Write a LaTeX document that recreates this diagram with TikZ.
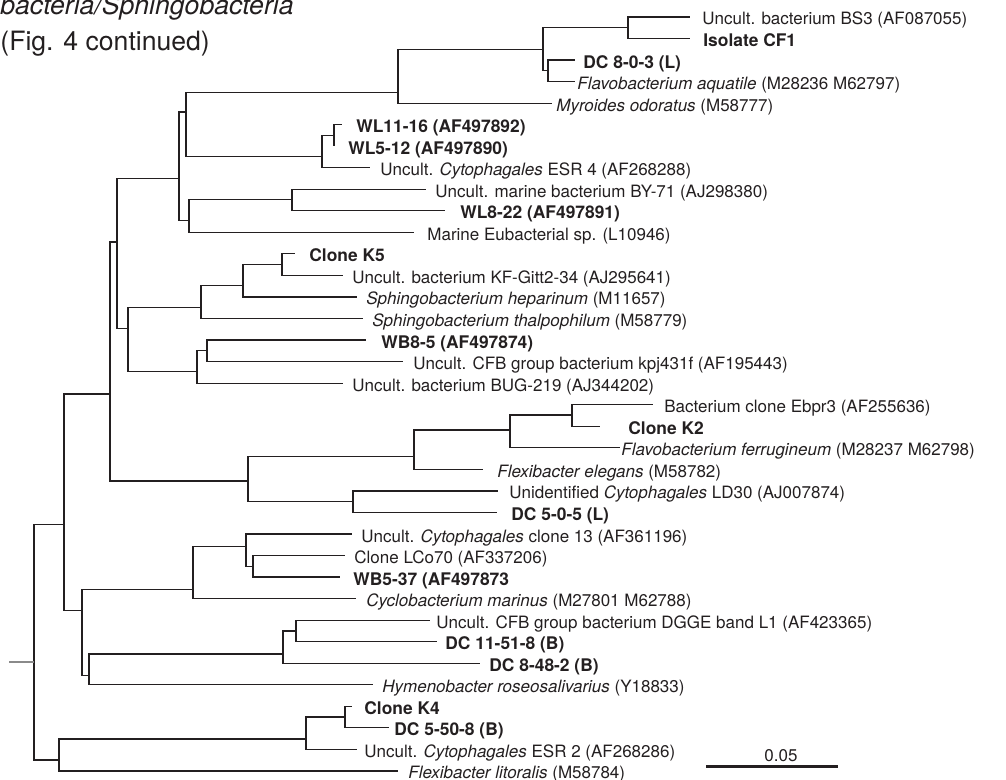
\documentclass[tikz,border=0pt]{standalone}
\usepackage{fontspec}
\setmainfont{TeX Gyre Heros}
\definecolor{ink}{HTML}{231F20}
\definecolor{stubgray}{HTML}{8A8A8A}
\newcommand\labfont{\fontsize{8.5}{10}\selectfont}
\newcommand\labfontb{\fontsize{8.7}{10}\selectfont\bfseries}
\newcommand\ttlfont{\fontsize{13.3}{16}\selectfont}
\begin{document}
\begin{tikzpicture}[x=0.5pt,y=-0.5pt,
  br/.style={line width=0.6pt, draw=ink},
  lab/.style={anchor=base west, inner sep=0pt, text=ink, font=\labfont},
  blab/.style={lab, font=\labfontb},
  ttl/.style={anchor=base west, inner sep=0pt, text=ink, font=\ttlfont}]
\useasboundingbox (0,0) rectangle (1006,780);

% titles
\node[ttl] (title1) at (0,15) {\itshape bacteria/Sphingobacteria};
\node[ttl] (title2) at (0,50.5) {(Fig. 4 continued)};

% leaf ends
\coordinate (t1) at (690,17.0);
\coordinate (t2) at (690,38.5);
\coordinate (t3) at (575,60.1);
\coordinate (t4) at (575,81.6);
\coordinate (t5) at (552,103.2);
\coordinate (t6) at (342,124.7);
\coordinate (t7) at (334,146.2);
\coordinate (t8) at (370,167.8);
\coordinate (t9) at (426,189.3);
\coordinate (t10) at (445,210.9);
\coordinate (t11) at (414,232.4);
\coordinate (t12) at (295,253.9);
\coordinate (t13) at (343,275.5);
\coordinate (t14) at (357,297.0);
\coordinate (t15) at (363,318.6);
\coordinate (t16) at (366,340.1);
\coordinate (t17) at (403,361.6);
\coordinate (t18) at (343,383.2);
\coordinate (t19) at (653,404.7);
\coordinate (t20) at (600,426.3);
\coordinate (t21) at (620,447.8);
\coordinate (t22) at (483,469.3);
\coordinate (t23) at (498,490.9);
\coordinate (t24) at (497,512.4);
\coordinate (t25) at (352,534.0);
\coordinate (t26) at (345,555.5);
\coordinate (t27) at (340,577.0);
\coordinate (t28) at (356,598.6);
\coordinate (t29) at (430,620.1);
\coordinate (t30) at (437,641.6);
\coordinate (t31) at (480,663.2);
\coordinate (t32) at (373,684.7);
\coordinate (t33) at (352,706.2);
\coordinate (t34) at (389,727.8);
\coordinate (t35) at (357,749.3);
\coordinate (t36) at (398,770.9);

% labels
\node[lab]  (L1)  at (702,25.0)  {Uncult. bacterium BS3 (AF087055)};
\node[blab] (L2)  at (703,46.5)  {Isolate CF1};
\node[blab] (L3)  at (583,68.1)  {DC 8-0-3 (L)};
\node[lab]  (L4)  at (577,89.6)  {\textit{Flavobacterium aquatile} (M28236 M62797)};
\node[lab]  (L5)  at (556,111.2) {\textit{Myroides odoratus} (M58777)};
\node[blab] (L6)  at (356,132.7) {WL11-16 (AF497892)};
\node[blab] (L7)  at (348,154.2) {WL5-12 (AF497890)};
\node[lab]  (L8)  at (380,175.8) {Uncult. \textit{Cytophagales} ESR 4 (AF268288)};
\node[lab]  (L9)  at (435,197.3) {Uncult. marine bacterium BY-71 (AJ298380)};
\node[blab] (L10) at (460,218.9) {WL8-22 (AF497891)};
\node[lab]  (L11) at (427,240.4) {Marine Eubacterial sp. (L10946)};
\node[blab] (L12) at (309,261.9) {Clone K5};
\node[lab]  (L13) at (352,283.5) {Uncult. bacterium KF-Gitt2-34 (AJ295641)};
\node[lab]  (L14) at (366,305.0) {\textit{Sphingobacterium heparinum} (M11657)};
\node[lab]  (L15) at (372,326.6) {\textit{Sphingobacterium thalpophilum} (M58779)};
\node[blab] (L16) at (381,348.1) {WB8-5 (AF497874)};
\node[lab]  (L17) at (413,369.6) {Uncult. CFB group bacterium kpj431f (AF195443)};
\node[lab]  (L18) at (352,391.2) {Uncult. bacterium BUG-219 (AJ344202)};
\node[lab]  (L19) at (664,412.7) {Bacterium clone Ebpr3 (AF255636)};
\node[blab] (L20) at (628,434.3) {Clone K2};
\node[lab]  (L21) at (621,455.8) {\textit{Flavobacterium ferrugineum} (M28237 M62798)};
\node[lab]  (L22) at (497,477.3) {\textit{Flexibacter elegans} (M58782)};
\node[lab]  (L23) at (509,498.9) {Unidentified \textit{Cytophagales} LD30 (AJ007874)};
\node[blab] (L24) at (511,520.4) {DC 5-0-5 (L)};
\node[lab]  (L25) at (361,542.0) {Uncult. \textit{Cytophagales} clone 13 (AF361196)};
\node[lab]  (L26) at (354,563.5) {Clone LCo70 (AF337206)};
\node[blab] (L27) at (353,585.0) {WB5-37 (AF497873};
\node[lab]  (L28) at (366,606.6) {\textit{Cyclobacterium marinus} (M27801 M62788)};
\node[lab]  (L29) at (436,628.1) {Uncult. CFB group bacterium DGGE band L1 (AF423365)};
\node[blab] (L30) at (445,649.6) {DC 11-51-8 (B)};
\node[blab] (L31) at (489,671.2) {DC 8-48-2 (B)};
\node[lab]  (L32) at (382,692.7) {\textit{Hymenobacter roseosalivarius} (Y18833)};
\node[blab] (L33) at (364,714.2) {Clone K4};
\node[blab] (L34) at (394,735.8) {DC 5-50-8 (B)};
\node[lab]  (L35) at (364,757.3) {Uncult. \textit{Cytophagales} ESR 2 (AF268286)};
\node[lab]  (L36) at (408,778.9) {\textit{Flexibacter litoralis} (M58784)};

% internal nodes
\coordinate (n628) at (628,27.75);
\coordinate (n548) at (548,70.9);
\coordinate (n543) at (543,49.3);
\coordinate (n398) at (398,92.3);
\coordinate (n334) at (334,135.5);
\coordinate (n322) at (322,156.5);
\coordinate (n186) at (186,112);
\coordinate (n292) at (292,199.5);
\coordinate (n189) at (189,220.5);
\coordinate (n179) at (179,178.3);
\coordinate (n282) at (282,264.7);
\coordinate (n243) at (243,285.5);
\coordinate (n201) at (201,307.5);
\coordinate (n207) at (207,350.8);
\coordinate (n197) at (197,371.5);
\coordinate (n128) at (128,328.8);
\coordinate (n117) at (117,242);
\coordinate (n572) at (572,415);
\coordinate (n510) at (510,430);
\coordinate (n414) at (414,456.5);
\coordinate (n353) at (353,501.7);
\coordinate (n248) at (248,481);
\coordinate (n110) at (110,394);
\coordinate (n253) at (253,566.3);
\coordinate (n246) at (246,546.5);
\coordinate (n193) at (193,589.5);
\coordinate (n296) at (296,630.9);
\coordinate (n283) at (283,654);
\coordinate (n89)  at (89,675.5);
\coordinate (n82)  at (82,610.5);
\coordinate (n64)  at (64,524.5);
\coordinate (n345) at (345,717);
\coordinate (n306) at (306,739);
\coordinate (n59)  at (59,760);
\coordinate (n34)  at (34,662);
\coordinate (stub) at (9,662);

% branches
\foreach \p/\c in {n628/t1,n628/t2,n548/t3,n548/t4,n543/n628,n543/n548,
  n398/n543,n398/t5,n334/t6,n334/t7,n322/n334,n322/t8,n186/n398,n186/n322,
  n292/t9,n292/t10,n189/n292,n189/t11,n179/n186,n179/n189,
  n282/t12,n282/t13,n243/n282,n243/t14,n201/n243,n201/t15,
  n207/t16,n207/t17,n197/n207,n197/t18,n128/n201,n128/n197,
  n117/n179,n117/n128,
  n572/t19,n572/t20,n510/n572,n510/t21,n414/n510,n414/t22,
  n353/t23,n353/t24,n248/n414,n248/n353,n110/n117,n110/n248,
  n253/t26,n253/t27,n246/t25,n246/n253,n193/n246,n193/t28,
  n296/t29,n296/t30,n283/n296,n283/t31,n89/n283,n89/t32,
  n82/n193,n82/n89,n64/n110,n64/n82,
  n345/t33,n345/t34,n306/n345,n306/t35,n59/n306,n59/t36,
  n34/n64,n34/n59}
  \draw[br] (\p) |- (\c);
\draw[line width=0.6pt, draw=stubgray] (stub) -- (n34);

% scale bar
\coordinate (sb1) at (706,766.5);
\coordinate (sb2) at (838,766.5);
\draw[line width=1.8pt, draw=ink] (sb1) -- (sb2);
\node[lab, anchor=base] (sblab) at (781,761.5) {0.05};
\end{tikzpicture}
\end{document}
